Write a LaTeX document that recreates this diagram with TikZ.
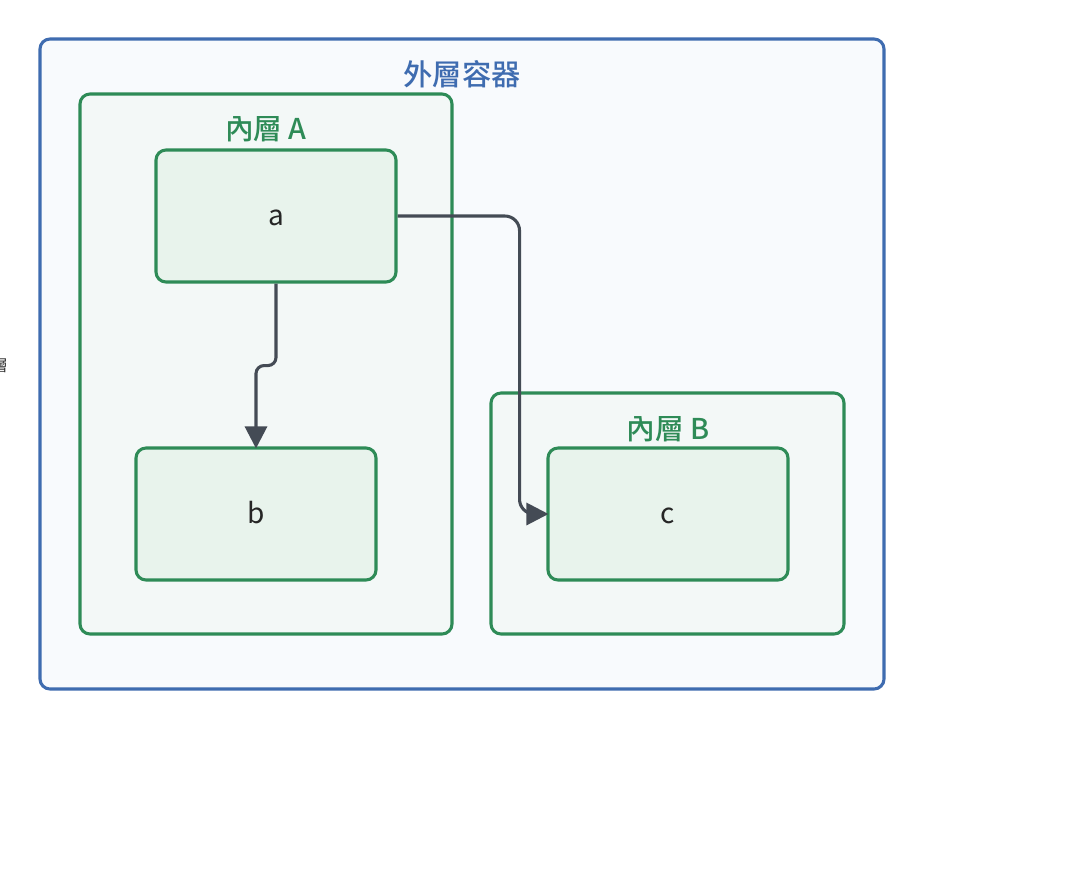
\documentclass[tikz,border=0pt]{standalone}
\usepackage{fontspec}
\setmainfont{Noto Sans CJK TC}
\newfontfamily\titlefont{Noto Sans CJK TC Medium}
\usetikzlibrary{arrows.meta,calc}
\definecolor{blueC}{HTML}{3F6CB0}
\definecolor{greenC}{HTML}{2E8B57}
\definecolor{outerF}{HTML}{F8FAFD}
\definecolor{innerF}{HTML}{F3F8F7}
\definecolor{nodeF}{HTML}{E8F3EC}
\definecolor{edgeC}{HTML}{444B55}
\newcommand{\lbl}[1]{\raisebox{-7pt}[0pt][0pt]{#1}}
\tikzset{
  outerbox/.style={draw=blueC, fill=outerF, line width=2.3pt, rounded corners=7.5pt},
  innerbox/.style={draw=greenC, fill=innerF, line width=2.3pt, rounded corners=7.5pt},
  leafbox/.style={draw=greenC, fill=nodeF, line width=2.3pt, rounded corners=7.5pt, inner sep=0pt,
    minimum width=180pt, minimum height=99pt, font=\fontsize{21pt}{22pt}\selectfont, text=black!85},
  outertitle/.style={text=blueC, font=\fontsize{22pt}{26pt}\titlefont},
  innertitle/.style={text=greenC, font=\fontsize{21.5pt}{26pt}\titlefont},
  edge/.style={draw=edgeC, line width=2.3pt, shorten >=-1.5pt, -{Triangle[width=16.5pt,length=16.5pt]}}
}
\begin{document}
\begin{tikzpicture}[x=0.75pt,y=-0.75pt]
\useasboundingbox[fill=white] (0,0) rectangle (1084,890);
\node[text=black!80, font=\fontsize{12pt}{14pt}\selectfont] (side) at (0,366) {層};
\draw[outerbox] (40,39) rectangle (884,689);
\node[outertitle] (ot) at (462,74) {外層容器};
\draw[innerbox] (80,94) rectangle (452,634);
\node[innertitle] (ta) at (266,129) {內層 A};
\draw[innerbox] (491,393) rectangle (844,634);
\node[innertitle] (tb) at (668,429) {內層 B};
\node[leafbox] (a) at (276,216) {\lbl{a}};
\node[leafbox] (b) at (256,514) {\lbl{b}};
\node[leafbox] (c) at (668,514) {\lbl{c}};
\draw[edge, rounded corners=6pt] (a.south) -- ++(0,82) -| (b.north);
\draw[edge, rounded corners=11pt] (a.east) -- ++(122,0) |- (c.west);
\end{tikzpicture}
\end{document}
